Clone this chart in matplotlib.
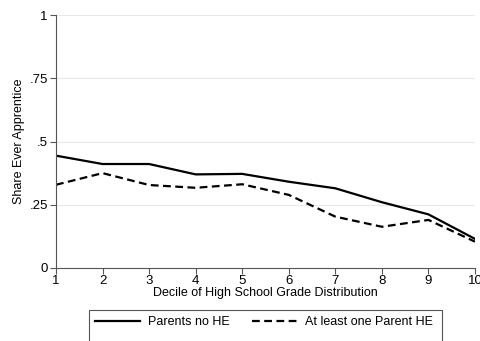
import matplotlib.pyplot as plt
from matplotlib.patches import Rectangle

plt.rcParams['font.family'] = ['Liberation Sans', 'DejaVu Sans']

deciles = [1, 2, 3, 4, 5, 6, 7, 8, 9, 10]
parents_no_he = [0.444, 0.411, 0.411, 0.370, 0.372, 0.341, 0.315, 0.260, 0.212, 0.115]
parent_he = [0.329, 0.375, 0.328, 0.317, 0.331, 0.289, 0.203, 0.163, 0.190, 0.104]
yticks = [0, 0.25, 0.5, 0.75, 1]
ylabels = ['0', '.25', '.5', '.75', '1']

fig = plt.figure(figsize=(4.8, 3.41), dpi=100)
ax = fig.add_axes([56/480, 1-268/341, (475-56)/480, (268-15)/341])

ax.plot(deciles, parents_no_he, color='black', lw=1.6, label='Parents no HE')
ax.plot(deciles, parent_he, color='black', lw=1.6, ls=(0, (3.5, 2)), label='At least one Parent HE')

ax.set_xlim(1, 10)
ax.set_ylim(0, 1)
ax.set_xticks(deciles)
ax.set_yticks(yticks)
ax.set_yticklabels(ylabels)
for y in yticks[1:]:
    ax.axhline(y, color='#e8e8e8', lw=0.8, zorder=0)
ax.spines['top'].set_visible(False)
ax.spines['right'].set_visible(False)
ax.spines['left'].set_color('#555555')
ax.spines['bottom'].set_color('#555555')
ax.tick_params(direction='out', length=4, color='#555555', labelsize=9.5)
ax.tick_params(axis='x', pad=1)
ax.tick_params(axis='y', pad=2)
ax.set_xlabel('Decile of High School Grade Distribution', fontsize=9, labelpad=0)
ax.set_ylabel('Share Ever Apprentice', fontsize=9, labelpad=3)

fig.patches.append(Rectangle((89/480, -0.05), (442-89)/480, 0.05 + 1-310/341,
                             transform=fig.transFigure, fill=False, ec='#555555', lw=0.8))
leg = fig.legend(loc='center', bbox_to_anchor=(264/480, 1-322/341), ncol=2, frameon=False,
                 fontsize=9, handlelength=3.6, columnspacing=1.75, handletextpad=0.65)

fig.savefig('out.png', dpi=100)
